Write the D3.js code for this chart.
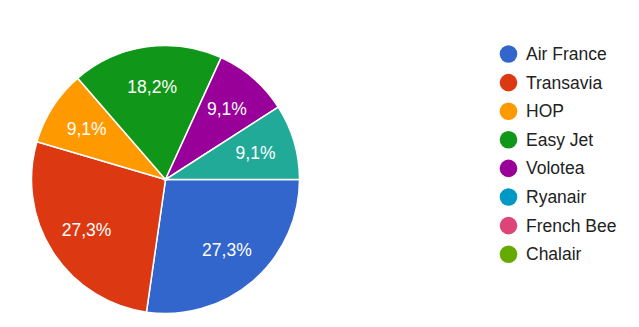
<!DOCTYPE html>
<html>
<head>
<meta charset="utf-8">
<script src="https://cdn.jsdelivr.net/npm/d3@7"></script>
<style>
  body { margin: 0; background: #fff; }
  svg { display: block; font-family: Arial, "Liberation Sans", sans-serif; }
</style>
</head>
<body>
<svg id="chart" width="639" height="327"></svg>
<script>
// answer options shown in the legend, with their number of responses
var categories = ["Air France", "Transavia", "HOP", "Easy Jet", "Volotea", "Ryanair", "French Bee", "Chalair"];
var counts = [3, 3, 1, 2, 1, 0, 0, 0];
// one extra answer drawn in teal, not listed in the legend
var otherLabel = "Autre";
var otherCount = 1;
var colors = ["#3366cc", "#dc3912", "#ff9900", "#109618", "#990099", "#0099c6", "#dd4477", "#66aa00"];
var otherColor = "#22aa99";

var width = 639, height = 327;
var cx = 165.5, cy = 179.5, radius = 134;

var slices = categories.map(function(c, i) {
  return {label: c, value: counts[i], color: colors[i]};
});
slices.push({label: otherLabel, value: otherCount, color: otherColor});

var total = d3.sum(slices, function(d) { return d.value; });

var svg = d3.select("#chart");

//pie starts at 3 o'clock and goes clockwise
var pie = d3.pie()
  .sort(null)
  .value(function(d) { return d.value; })
  .startAngle(Math.PI / 2)
  .endAngle(Math.PI / 2 + 2 * Math.PI);

var arc = d3.arc().innerRadius(0).outerRadius(radius);
var labelArc = d3.arc().innerRadius(radius * 0.7).outerRadius(radius * 0.7);

var g = svg.append("g").attr("transform", "translate(" + cx + "," + cy + ")");

var arcs = pie(slices).filter(function(d) { return d.data.value > 0; });

g.selectAll("path")
  .data(arcs)
  .enter().append("path")
  .attr("d", arc)
  .attr("fill", function(d) { return d.data.color; })
  .attr("stroke", "#fff")
  .attr("stroke-width", 1.5);

g.selectAll("text")
  .data(arcs)
  .enter().append("text")
  .attr("transform", function(d) { return "translate(" + labelArc.centroid(d) + ")"; })
  .attr("text-anchor", "middle")
  .attr("dominant-baseline", "central")
  .attr("fill", "#fff")
  .attr("font-size", 17.5)
  .text(function(d) {
    return (d.data.value / total * 100).toFixed(1).replace(".", ",") + "%";
  });

//legend
var legendY = d3.scalePoint()
  .domain(categories)
  .range([54, 54 + 28.6 * (categories.length - 1)]);

var legend = svg.append("g");

var items = legend.selectAll("g")
  .data(categories)
  .enter().append("g")
  .attr("transform", function(d) { return "translate(508.5," + legendY(d) + ")"; });

items.append("circle")
  .attr("r", 8.8)
  .attr("fill", function(d, i) { return colors[i]; });

items.append("text")
  .attr("x", 17.5)
  .attr("dominant-baseline", "central")
  .attr("fill", "#222")
  .attr("font-size", 17.5)
  .text(function(d) { return d; });
</script>
</body>
</html>
